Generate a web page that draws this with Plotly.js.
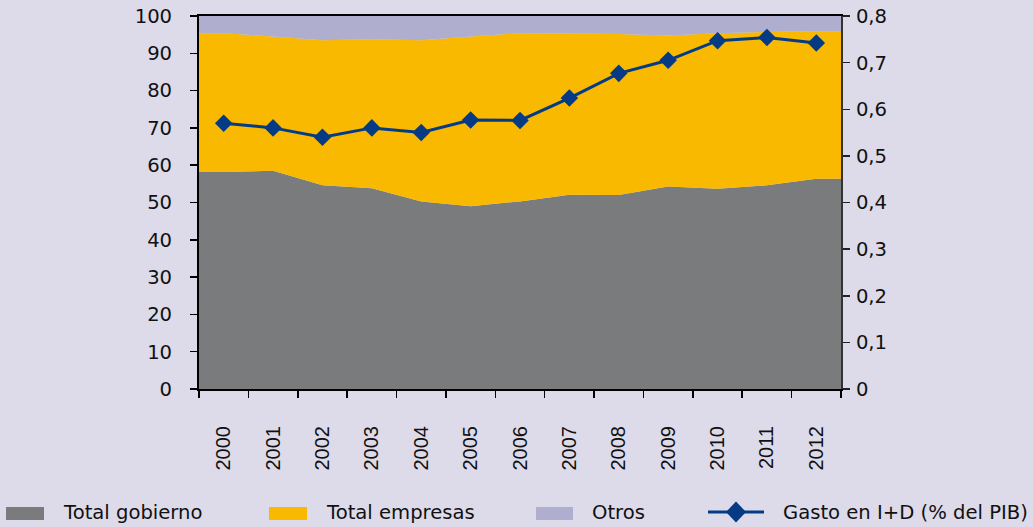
<!DOCTYPE html>
<html><head><meta charset="utf-8">
<script src="https://cdn.plot.ly/plotly-3.0.1.min.js"></script>
<style>html,body{margin:0;padding:0;background:#dddbea;} #chart{width:1033px;height:527px;}</style>
</head><body><div id="chart"></div>
<script>
// ---- data ----
const years = [2000,2001,2002,2003,2004,2005,2006,2007,2008,2009,2010,2011,2012];
const yearLabels = ["2000","2001","2002","2003","2004","2005","2006","2007","2008","2009","2010","2011","2012"];
const totalGobierno = [58.2,58.5,54.6,53.8,50.3,49.0,50.3,52.1,52.0,54.3,53.7,54.6,56.4];
const totalEmpresas = [37.2,36.0,38.9,40.0,43.2,45.5,45.1,43.2,43.2,40.5,41.7,41.1,39.5];
const otros = [4.6,5.5,6.5,6.2,6.5,5.5,4.6,4.7,4.8,5.2,4.6,4.3,4.1];
const gastoID = [0.570,0.560,0.540,0.560,0.550,0.577,0.576,0.624,0.677,0.705,0.747,0.754,0.742];
const seriesNames = ["Total gobierno","Total empresas","Otros","Gasto en I+D (% del PIB)"];

// ---- styles ----
const C_GRAY = "#7a7b7c", C_YEL = "#f9b900", C_OTR = "#b0aecf", C_NAVY = "#053b84";
const BG = "#dddbea", TXT = "#111111";
const FONT = "'DejaVu Sans', Verdana, sans-serif";
const XFONT = "'Liberation Sans', Arial, sans-serif";
const FS = 19.6;

// areas extend half a category to each edge, flat
const xa = [years[0]-0.5].concat(years, [years[years.length-1]+0.5]);
const ext = a => [a[0]].concat(a, [a[a.length-1]]);
const bounds = [years[0]-0.5].concat(years.map(y => y+0.5));

const traces = [
  {x: xa, y: ext(totalGobierno), name: seriesNames[0], stackgroup: "a", mode: "none", fillcolor: C_GRAY, hoverinfo: "skip"},
  {x: xa, y: ext(totalEmpresas), name: seriesNames[1], stackgroup: "a", mode: "none", fillcolor: C_YEL, hoverinfo: "skip"},
  {x: xa, y: ext(otros), name: seriesNames[2], stackgroup: "a", mode: "none", fillcolor: C_OTR, hoverinfo: "skip"},
  {x: years, y: gastoID, name: seriesNames[3], yaxis: "y2", mode: "lines+markers",
   line: {color: C_NAVY, width: 3}, marker: {symbol: "diamond", size: 13.5, color: C_NAVY}}
];

// plot area in pixels (for legend placement)
const L = 199, R = 841, T = 16, B = 389;
const px = x => (x - L) / (R - L);
const py = y => (B - y) / (B - T);

const shapes = [
  {type: "rect", xref: "paper", yref: "paper", x0: px(6), x1: px(44), y0: py(520), y1: py(507), fillcolor: C_GRAY, line: {width: 0}},
  {type: "rect", xref: "paper", yref: "paper", x0: px(269), x1: px(307), y0: py(520), y1: py(507), fillcolor: C_YEL, line: {width: 0}},
  {type: "rect", xref: "paper", yref: "paper", x0: px(536), x1: px(573), y0: py(520), y1: py(507), fillcolor: C_OTR, line: {width: 0}},
  {type: "line", xref: "paper", yref: "paper", x0: px(708), x1: px(764), y0: py(512), y1: py(512), line: {color: C_NAVY, width: 3}},
  {type: "path", xref: "paper", yref: "paper", fillcolor: C_NAVY, line: {width: 0},
   path: `M ${px(726)},${py(512)} L ${px(736)},${py(501.5)} L ${px(746)},${py(512)} L ${px(736)},${py(522.5)} Z`}
];
const legX = [61, 324, 590, 781];
const annotations = seriesNames.map((n, i) => ({
  text: n, xref: "paper", yref: "paper", x: px(legX[i]), y: py(512), xanchor: "left", yanchor: "middle",
  showarrow: false, font: {family: FONT, size: FS, color: TXT}
}));

const layout = {
  width: 1033, height: 527,
  margin: {l: L, r: 1033 - R, t: T, b: 527 - B, pad: 0},
  paper_bgcolor: BG, plot_bgcolor: BG,
  separators: ",.",
  showlegend: false,
  font: {family: FONT, size: FS, color: TXT},
  xaxis: {
    range: [years[0]-0.5, years[years.length-1]+0.5],
    tickmode: "array", tickvals: years, ticktext: yearLabels,
    ticks: "outside", ticklen: 7, tickcolor: "rgba(0,0,0,0)",
    tickangle: -90, tickfont: {family: XFONT, size: 20, color: TXT}, ticklabelstandoff: 20,
    minor: {tickmode: "array", tickvals: bounds, ticks: "outside", ticklen: 7, tickwidth: 1.5, tickcolor: "#000", showgrid: false},
    showline: true, linecolor: "#000", linewidth: 2, mirror: true,
    showgrid: false, zeroline: false, fixedrange: true
  },
  yaxis: {
    range: [0, 100], dtick: 10, tick0: 0,
    ticks: "outside", ticklen: 7, tickwidth: 1.5, tickcolor: "#000",
    showline: true, linecolor: "#000", linewidth: 2,
    showgrid: false, zeroline: false, tickfont: {family: FONT, size: FS, color: TXT}, ticklabelstandoff: 14
  },
  yaxis2: {
    overlaying: "y", side: "right", range: [0, 0.8], dtick: 0.1, tick0: 0,
    ticks: "outside", ticklen: 7, tickwidth: 1.5, tickcolor: "#222",
    showline: true, linecolor: "#333", linewidth: 2,
    showgrid: false, zeroline: false, tickfont: {family: FONT, size: FS, color: TXT}, ticklabelstandoff: 2
  },
  shapes: shapes,
  annotations: annotations
};

Plotly.newPlot("chart", traces, layout, {displayModeBar: false, staticPlot: true});
</script>
</body></html>
